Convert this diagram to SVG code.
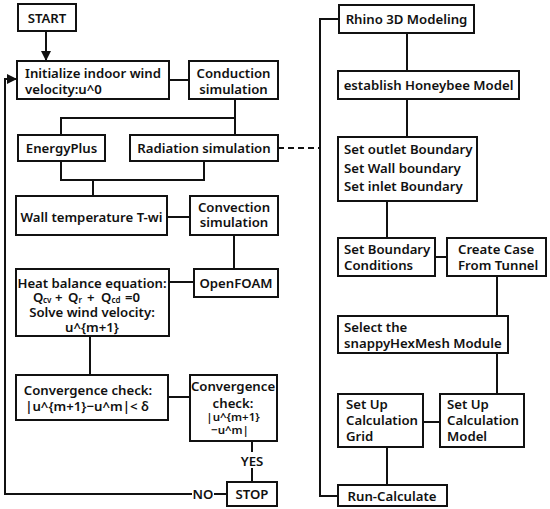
<svg xmlns="http://www.w3.org/2000/svg" width="550" height="509" viewBox="0 0 550 509">
<style>
rect.n{fill:#fff;stroke:#111;stroke-width:2}
.c line,.c polyline{fill:none;stroke:#111;stroke-width:2}
text{font-family:"Noto Sans","Open Sans",sans-serif;font-size:13.2px;font-weight:600;fill:#111}
.m{text-anchor:middle}
.s{font-size:11.5px}
.sub{font-size:8px}
</style>
<defs>
<marker id="ah" viewBox="0 0 10 10" refX="9" refY="5" markerWidth="5" markerHeight="5" orient="auto" markerUnits="strokeWidth"><path d="M0,0L10,5L0,10z" fill="#111"/></marker>
</defs>
<rect width="550" height="509" fill="#fff"/>
<g class="c" id="connectors">
<line x1="46" y1="31" x2="46" y2="60" marker-end="url(#ah)"/>
<line x1="169" y1="80" x2="189" y2="80"/>
<polyline points="235,99 235,118 61,118 61,135"/>
<line x1="235" y1="118" x2="235" y2="135"/>
<polyline points="61,161 61,180 204,180 204,161"/>
<line x1="93" y1="180" x2="93" y2="196"/>
<line x1="167" y1="217" x2="190" y2="217"/>
<line x1="234" y1="235" x2="234" y2="269"/>
<line x1="169" y1="282" x2="194" y2="282"/>
<line x1="90" y1="336" x2="90" y2="375"/>
<line x1="168" y1="397" x2="190" y2="397"/>
<line x1="252" y1="441" x2="252" y2="452"/>
<line x1="252" y1="468" x2="252" y2="482"/>
<line x1="214" y1="494" x2="227" y2="494"/>
<polyline points="192,494 5,494 5,79 16,79" marker-end="url(#ah)"/>
<line x1="278" y1="148" x2="320" y2="148" stroke-dasharray="6,4"/>
<polyline points="339,19 320,19 320,496 338,496"/>
<line x1="407" y1="33" x2="407" y2="71"/>
<line x1="407" y1="99" x2="407" y2="137"/>
<line x1="387" y1="201" x2="387" y2="238"/>
<line x1="435" y1="257" x2="447" y2="257"/>
<line x1="497" y1="276" x2="497" y2="316"/>
<line x1="497" y1="353" x2="497" y2="394"/>
<line x1="423" y1="422" x2="440" y2="422"/>
<line x1="387" y1="447" x2="387" y2="485"/>
</g>
<g id="start"><rect class="n" x="18" y="4" width="58" height="27"/><text class="m" x="47" y="23">START</text></g>
<g id="init"><rect class="n" x="17" y="61" width="152" height="38"/><text x="25" y="78">Initialize indoor wind</text><text x="25" y="94">velocity:u^0</text></g>
<g id="conduction"><rect class="n" x="189" y="61" width="89" height="38"/><text class="m" x="233.5" y="78">Conduction</text><text class="m" x="233.5" y="94">simulation</text></g>
<g id="energyplus"><rect class="n" x="18" y="135" width="87" height="26"/><text class="m" x="61.5" y="153">EnergyPlus</text></g>
<g id="radiation"><rect class="n" x="130" y="135" width="148" height="26"/><text class="m" x="204" y="153">Radiation simulation</text></g>
<g id="walltemp"><rect class="n" x="16" y="196" width="151" height="39"/><text class="m" x="91.5" y="222">Wall temperature T-wi</text></g>
<g id="convection"><rect class="n" x="190" y="196" width="88" height="39"/><text class="m" x="234" y="212">Convection</text><text class="m" x="234" y="227">simulation</text></g>
<g id="openfoam"><rect class="n" x="194" y="269" width="84" height="28"/><text class="m" x="236" y="288">OpenFOAM</text></g>
<g id="heatbalance"><rect class="n" x="16" y="269" width="153" height="67"/>
<text class="m" x="92" y="288">Heat balance equation:</text>
<text x="33" y="302">Q</text><text class="sub" x="43" y="303">cv</text><text x="55" y="302">+</text>
<text x="68" y="302">Q</text><text class="sub" x="78.5" y="303">r</text><text x="87" y="302">+</text>
<text x="101" y="302">Q</text><text class="sub" x="111.5" y="303">cd</text><text x="125" y="302">=0</text>
<text class="m" x="92" y="317">Solve wind velocity:</text>
<text class="m" x="92" y="332">u^{m+1}</text></g>
<g id="convcheck1"><rect class="n" x="16" y="375" width="152" height="45"/><text class="m" x="88" y="395">Convergence check:</text><text class="m" x="87" y="411">|u^{m+1}−u^m|&lt; δ</text></g>
<g id="convcheck2"><rect class="n" x="190" y="375" width="87" height="66"/><text class="m" x="233" y="391">Convergence</text><text class="m" x="233" y="408">check:</text><text class="m s" x="233" y="421">|u^{m+1}</text><text class="m s" x="230" y="434">−u^m|</text></g>
<g id="yes"><text class="m" x="252" y="466">YES</text></g>
<g id="no"><text class="m" x="203" y="499">NO</text></g>
<g id="stop"><rect class="n" x="227" y="482" width="50" height="24"/><text class="m" x="252" y="499">STOP</text></g>
<g id="rhino"><rect class="n" x="339" y="5" width="135" height="28"/><text class="m" x="406.5" y="24">Rhino 3D Modeling</text></g>
<g id="honeybee"><rect class="n" x="338" y="71" width="181" height="28"/><text class="m" x="428.5" y="90">establish Honeybee Model</text></g>
<g id="boundaries"><rect class="n" x="338" y="137" width="139" height="64"/><text x="344" y="154">Set outlet Boundary</text><text x="344" y="173">Set Wall boundary</text><text x="344" y="191">Set inlet Boundary</text></g>
<g id="setbc"><rect class="n" x="338" y="238" width="97" height="38"/><text x="344" y="254">Set Boundary</text><text x="344" y="270">Conditions</text></g>
<g id="createcase"><rect class="n" x="447" y="238" width="99" height="38"/><text x="458" y="254">Create Case</text><text x="458" y="270">From Tunnel</text></g>
<g id="snappy"><rect class="n" x="338" y="316" width="170" height="37"/><text x="344" y="332">Select the</text><text x="344" y="348">snappyHexMesh Module</text></g>
<g id="grid"><rect class="n" x="338" y="394" width="85" height="53"/><text x="346" y="409">Set Up</text><text x="346" y="425">Calculation</text><text x="346" y="441">Grid</text></g>
<g id="model"><rect class="n" x="440" y="394" width="84" height="53"/><text x="447" y="409">Set Up</text><text x="447" y="425">Calculation</text><text x="447" y="441">Model</text></g>
<g id="run"><rect class="n" x="338" y="485" width="109" height="21"/><text class="m" x="392" y="501">Run-Calculate</text></g>
</svg>
